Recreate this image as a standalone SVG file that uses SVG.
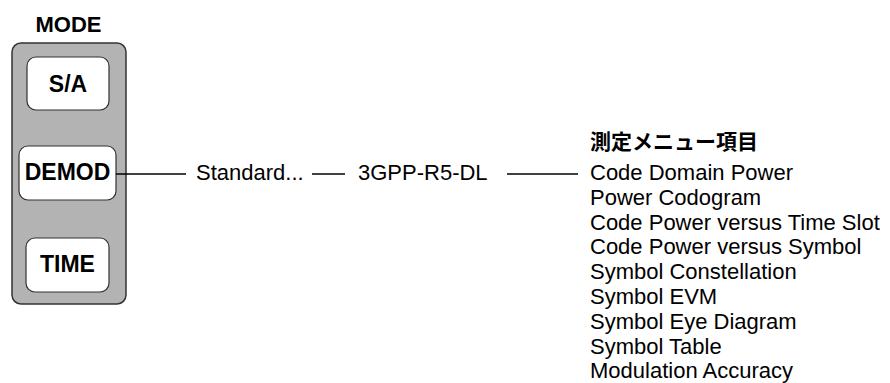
<svg xmlns="http://www.w3.org/2000/svg" width="890" height="383" viewBox="0 0 890 383">
<style>
.lbl{font-family:"Liberation Sans",Arial,sans-serif;font-size:22px;fill:#000}
.btn{font-family:"Liberation Sans",Arial,sans-serif;font-size:23px;font-weight:bold;fill:#000;text-anchor:middle}
.key{fill:#fff;stroke:#333;stroke-width:1.2}
.conn{stroke:#000;stroke-width:1.5;fill:none}
.cjk{font-family:"Liberation Sans","Noto Sans CJK JP",sans-serif;font-size:21px;font-weight:bold;fill:#000}
</style>
<rect width="890" height="383" fill="#fff"/>
<g id="mode-panel">
<text class="btn" x="68.5" y="32" style="font-size:22px">MODE</text>
<rect x="12" y="43" width="114" height="261" rx="9" fill="#b3b3b3" stroke="#333" stroke-width="1.5"/>
</g>
<g id="key-sa">
<rect class="key" x="27" y="57" width="82" height="53" rx="9"/>
<text class="btn" x="68" y="92">S/A</text>
</g>
<g id="key-demod">
<rect class="key" x="19" y="146" width="97" height="54" rx="9"/>
<text class="btn" x="67.5" y="180">DEMOD</text>
</g>
<g id="key-time">
<rect class="key" x="26" y="238" width="83" height="54" rx="9"/>
<text class="btn" x="67.5" y="272">TIME</text>
</g>
<g id="connectors">
<line class="conn" x1="116" y1="174" x2="186" y2="174"/>
<line class="conn" x1="312" y1="174" x2="345" y2="174"/>
<line class="conn" x1="507" y1="174" x2="578" y2="174"/>
</g>
<g id="standard">
<text class="lbl" x="196" y="180">Standard...</text>
</g>
<g id="std-3gpp">
<text class="lbl" x="358" y="180">3GPP-R5-DL</text>
</g>
<g id="menu">
<text class="cjk" x="590" y="149">測定メニュー項目</text>
<text class="lbl" x="590" y="180">Code Domain Power</text>
<text class="lbl" x="590" y="204.8">Power Codogram</text>
<text class="lbl" x="590" y="229.6">Code Power versus Time Slot</text>
<text class="lbl" x="590" y="254.4">Code Power versus Symbol</text>
<text class="lbl" x="590" y="279.2">Symbol Constellation</text>
<text class="lbl" x="590" y="304">Symbol EVM</text>
<text class="lbl" x="590" y="328.8">Symbol Eye Diagram</text>
<text class="lbl" x="590" y="353.6">Symbol Table</text>
<text class="lbl" x="590" y="378.4">Modulation Accuracy</text>
</g>
</svg>
